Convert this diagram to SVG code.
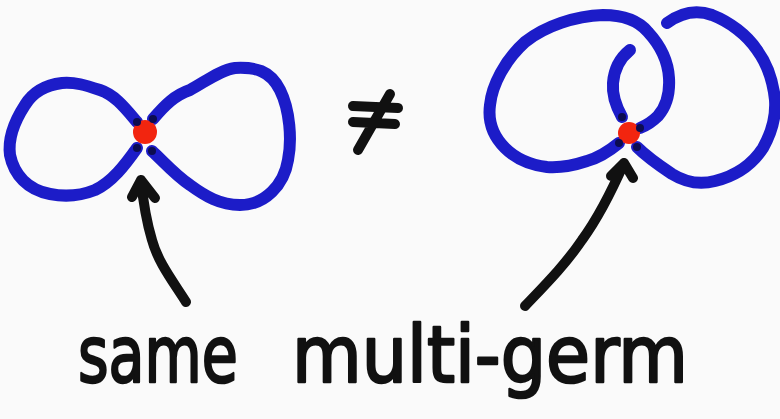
<svg xmlns="http://www.w3.org/2000/svg" width="780" height="419" viewBox="0 0 780 419">
<style>
.blue{fill:none;stroke:#1c1cc8;stroke-width:12;stroke-linecap:round;stroke-linejoin:round}
.ink{fill:none;stroke:#111;stroke-width:10;stroke-linecap:round;stroke-linejoin:round}
.dot{fill:#f2250f}
.end{fill:#0c0c50}
.lbl{font-family:"DejaVu Sans","Liberation Sans",sans-serif;font-weight:normal;font-size:78px;fill:#111;stroke:#111;stroke-width:2.5;stroke-linejoin:round}
</style>
<rect width="780" height="419" fill="#fafafa"/>
<g id="figure-eight">
<path class="blue" d="M137,122 C125,108 115,95 100,90 C85,85 75,82 62,83 C45,85 33,92 25,105 C12,125 8,140 10,155 C14,175 28,190 50,194 C65,197 80,196 95,190 C112,182 125,165 137,148"/>
<path class="blue" d="M153,119 C165,105 175,95 190,90 C205,82 220,70 235,68 C255,67 270,70 280,90 C290,110 292,140 288,160 C284,185 265,205 240,205 C220,205 205,196 190,185 C175,175 162,160 152,151"/>
<circle class="dot" cx="145" cy="132" r="12"/>
<circle class="end" cx="137" cy="122" r="4"/>
<circle class="end" cx="153" cy="119" r="4"/>
<circle class="end" cx="137" cy="148" r="4"/>
<circle class="end" cx="152" cy="151" r="4"/>
</g>
<g id="neq">
<path class="ink" stroke-width="9" d="M353,106 L398,108 M353,122 L395,124 M390,94 L358,150"/>
</g>
<g id="figure-linked">
<path class="blue" d="M619,143 C608,152 598,158 587,161 C572,166 560,168 547,167 C530,165 515,158 505,148 C492,135 488,120 490,105 C492,85 505,60 525,42 C545,26 575,16 603,15 C622,15 638,20 648,32 C660,45 668,60 669,78 C670,95 665,108 658,116 C652,122 645,126 640,128"/>
<path class="blue" d="M622,117 C617,108 612,95 613,83 C614,70 620,58 630,50"/>
<path class="blue" d="M637,147 C648,158 660,166 672,174 C685,182 700,185 715,181 C735,176 752,165 763,148 C772,132 776,115 775,100 C773,80 768,65 757,50 C747,35 730,22 712,15 C698,10 682,12 667,23"/>
<circle class="dot" cx="629" cy="133" r="11"/>
<circle class="end" cx="622" cy="117" r="4"/>
<circle class="end" cx="640" cy="128" r="4"/>
<circle class="end" cx="619" cy="143" r="4"/>
<circle class="end" cx="637" cy="147" r="4"/>
</g>
<g id="connectors">
<path class="ink" d="M186,302 C172,280 158,262 152,240 C146,220 143,200 141,180 M132,197 L141,180 L155,198"/>
<path class="ink" d="M525,306 C545,285 565,265 582,240 C598,218 610,195 624,163 M611,176 L624,163 L633,178"/>
</g>
<g id="labels">
<text class="lbl" x="78" y="382" textLength="160" lengthAdjust="spacingAndGlyphs">same</text>
<text class="lbl" x="292" y="382" textLength="396" lengthAdjust="spacingAndGlyphs">multi-germ</text>
</g>
</svg>
